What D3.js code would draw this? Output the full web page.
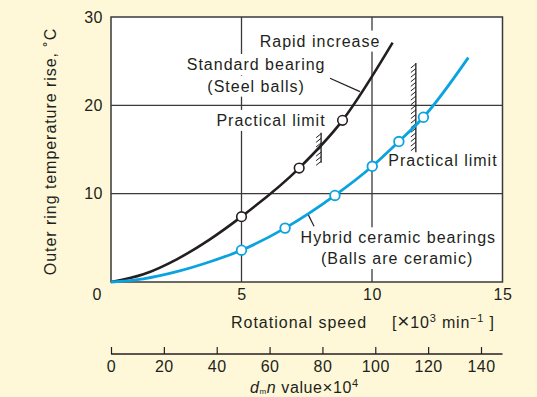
<!DOCTYPE html>
<html><head><meta charset="utf-8">
<script src="https://cdn.jsdelivr.net/npm/d3@7"></script>
<style>
html,body{margin:0;padding:0;background:#fef8d8;}
svg{display:block;font-family:"Liberation Sans",Arial,Helvetica,sans-serif;}
</style></head><body>
<svg id="chart" width="537" height="397"></svg>
<script>
// ---------- data ----------
const steelCurveSpeed = [0, 1.24, 2.52, 3.79, 5, 7.21, 8.87, 10.79];
const steelCurveTemp  = [0, 0.87, 2.57, 4.83, 7.4, 12.9, 18.3, 27.1];
const hybridCurveSpeed = [0, 1.24, 2.52, 3.79, 5, 6.67, 8.58, 10.01, 11.03, 11.97, 13.69];
const hybridCurveTemp  = [0, 0.36, 1.17, 2.29, 3.6, 6.1, 9.8, 13.1, 15.9, 18.65, 25.4];
const steelMarkSpeed = [5, 7.21, 8.87];
const steelMarkTemp  = [7.4, 12.9, 18.3];
const hybridMarkSpeed = [5, 6.67, 8.58, 10.01, 11.03, 11.97];
const hybridMarkTemp  = [3.6, 6.1, 9.8, 13.1, 15.9, 18.65];
const limitSpeed = [8.05, 11.68];
const limitLow   = [13.5, 14.7];
const limitHigh  = [16.9, 24.8];
const speedTicks = [5, 10, 15];
const tempTicks  = [10, 20, 30];
const dmnTicks   = [0, 20, 40, 60, 80, 100, 120, 140];

// ---------- layout ----------
const L = 111, R = 502.5, T = 17, B = 282;
const ink = "#231f20", grid = "#3a3a3a", blue = "#0aa3e0";
const svg = d3.select("#chart");

const x = d3.scaleLinear().domain([0, 15]).range([L, R]);
const y = d3.scaleLinear().domain([0, 30]).range([B, T]);
const xd = d3.scaleLinear().domain([0, 140]).range([L, 481]);

// plot background
svg.append("rect").attr("x", L).attr("y", T).attr("width", R - L).attr("height", B - T).attr("fill", "#fff");

// gridlines
const gl = svg.append("g").attr("stroke", grid).attr("stroke-width", 1.3);
[5, 10].forEach(v => gl.append("line").attr("x1", x(v)).attr("x2", x(v)).attr("y1", T).attr("y2", B));
[10, 20].forEach(v => gl.append("line").attr("y1", y(v)).attr("y2", y(v)).attr("x1", L).attr("x2", R));

// annotations (data coordinates)
const notes = [
  {t: "Rapid increase", sx: 8.01, ty: 26.65},
  {t: "Standard bearing", sx: 5.56, ty: 24.0},
  {t: "(Steel balls)", sx: 5.56, ty: 21.55},
  {t: "Practical limit", sx: 6.13, ty: 17.67},
  {t: "Practical limit", sx: 12.72, ty: 13.08},
  {t: "Hybrid ceramic bearings", sx: 11.01, ty: 4.38},
  {t: "(Balls are ceramic)", sx: 10.96, ty: 2.04}
];
const ng = svg.append("g");
const bgG = ng.append("g");
const txG = ng.append("g");
notes.forEach(n => {
  const t = txG.append("text").attr("x", x(n.sx)).attr("y", y(n.ty))
    .attr("text-anchor", "middle").attr("font-size", 16).attr("letter-spacing", 1)
    .attr("fill", ink).text(n.t);
  const bb = t.node().getBBox();
  bgG.append("rect").attr("x", bb.x - 3).attr("y", bb.y - 2).attr("width", bb.width + 6).attr("height", bb.height + 4).attr("fill", "#fff");
});

// leader lines
svg.append("line").attr("x1", x(8.39)).attr("y1", y(23.07)).attr("x2", x(9.54)).attr("y2", y(21.55))
  .attr("stroke", ink).attr("stroke-width", 1.2);
svg.append("line").attr("x1", x(7.56)).attr("y1", y(7.6)).attr("x2", x(7.78)).attr("y2", y(6.3))
  .attr("stroke", ink).attr("stroke-width", 1.2);

// frame
svg.append("rect").attr("x", L).attr("y", T).attr("width", R - L).attr("height", B - T)
  .attr("fill", "none").attr("stroke", grid).attr("stroke-width", 1.5);

// practical limit walls
limitSpeed.forEach((s, i) => {
  const g = svg.append("g").attr("stroke", ink).attr("stroke-width", 1.3);
  const wx = x(s);
  g.append("line").attr("x1", wx).attr("x2", wx).attr("y1", y(limitHigh[i])).attr("y2", y(limitLow[i]));
  d3.range(y(limitHigh[i]) + 1, y(limitLow[i]) - 1, 4.6).forEach(h => {
    g.append("line").attr("x1", wx - 5).attr("y1", h + 4).attr("x2", wx).attr("y2", h).attr("stroke-width", 1);
  });
});

// curves
const line = d3.line().x(d => x(d[0])).y(d => y(d[1])).curve(d3.curveMonotoneX);
svg.append("path").datum(steelCurveSpeed.map((s, i) => [s, steelCurveTemp[i]]))
  .attr("d", line).attr("fill", "none").attr("stroke", ink).attr("stroke-width", 2.6);
svg.append("path").datum(hybridCurveSpeed.map((s, i) => [s, hybridCurveTemp[i]]))
  .attr("d", line).attr("fill", "none").attr("stroke", blue).attr("stroke-width", 2.8);

// markers
svg.append("g").selectAll("circle").data(steelMarkSpeed.map((s, i) => [s, steelMarkTemp[i]])).join("circle")
  .attr("cx", d => x(d[0])).attr("cy", d => y(d[1])).attr("r", 4.8)
  .attr("fill", "#fff").attr("stroke", ink).attr("stroke-width", 1.6);
svg.append("g").selectAll("circle").data(hybridMarkSpeed.map((s, i) => [s, hybridMarkTemp[i]])).join("circle")
  .attr("cx", d => x(d[0])).attr("cy", d => y(d[1])).attr("r", 4.8)
  .attr("fill", "#fff").attr("stroke", blue).attr("stroke-width", 1.8);

// axes
const fontAxis = g => g.selectAll("text").attr("font-size", 16).attr("fill", ink).attr("letter-spacing", 0.5)
  .attr("font-family", "'Liberation Sans',Arial,Helvetica,sans-serif");
svg.append("g").attr("transform", `translate(${L},0)`)
  .call(d3.axisLeft(y).tickValues(tempTicks).tickSize(0).tickPadding(8))
  .call(g => g.select(".domain").remove()).call(fontAxis);
svg.append("g").attr("transform", `translate(0,${B})`)
  .call(d3.axisBottom(x).tickValues(speedTicks).tickSize(0).tickPadding(6.5))
  .call(g => g.select(".domain").remove()).call(fontAxis);
svg.append("text").attr("x", L - 14).attr("y", y(0) + 12).attr("dy", "0.35em")
  .attr("text-anchor", "middle").attr("font-size", 16).attr("fill", ink).text("0");

// dmn axis
const dAxis = svg.append("g").attr("transform", "translate(0,354)")
  .call(d3.axisBottom(xd).tickValues(dmnTicks).tickSize(-7).tickSizeOuter(0).tickPadding(7).tickFormat(d3.format("d")))
  .call(fontAxis);
dAxis.select(".domain").attr("d", `M${L},0H${R}`).attr("stroke", ink).attr("stroke-width", 1.3);
dAxis.selectAll(".tick line").attr("stroke", ink).attr("stroke-width", 1.2);

// axis titles
svg.append("text").attr("x", 299).attr("y", 327.5).attr("text-anchor", "middle")
  .attr("font-size", 16).attr("letter-spacing", 1).attr("fill", ink).text("Rotational speed");
const u = svg.append("text").attr("x", 392).attr("y", 327.5).attr("font-size", 16).attr("letter-spacing", 0.8).attr("fill", ink);
u.append("tspan").text("[");
u.append("tspan").attr("font-size", 21).text("×");
u.append("tspan").text("10");
u.append("tspan").attr("font-size", 11).attr("dy", -6).text("3");
u.append("tspan").attr("dy", 6).text(" min");
u.append("tspan").attr("font-size", 11).attr("dy", -6).text("−1");
u.append("tspan").attr("dy", 6).text("  ]");

const dl = svg.append("text").attr("x", 250).attr("y", 392.5).attr("font-size", 16).attr("letter-spacing", 0.6).attr("fill", ink);
dl.append("tspan").attr("font-style", "italic").text("d");
dl.append("tspan").attr("font-size", 8).attr("dy", 1).text("m");
dl.append("tspan").attr("font-style", "italic").attr("dy", -1).text("n");
dl.append("tspan").text(" value");
dl.append("tspan").attr("font-size", 17).text("×");
dl.append("tspan").text("10");
dl.append("tspan").attr("font-size", 11).attr("dy", -6).text("4");

svg.append("text").attr("transform", "translate(56,151.5) rotate(-90)").attr("text-anchor", "middle")
  .attr("font-size", 16).attr("letter-spacing", 0.95).attr("fill", ink).text("Outer ring temperature rise, ˚C");
</script>
</body></html>
